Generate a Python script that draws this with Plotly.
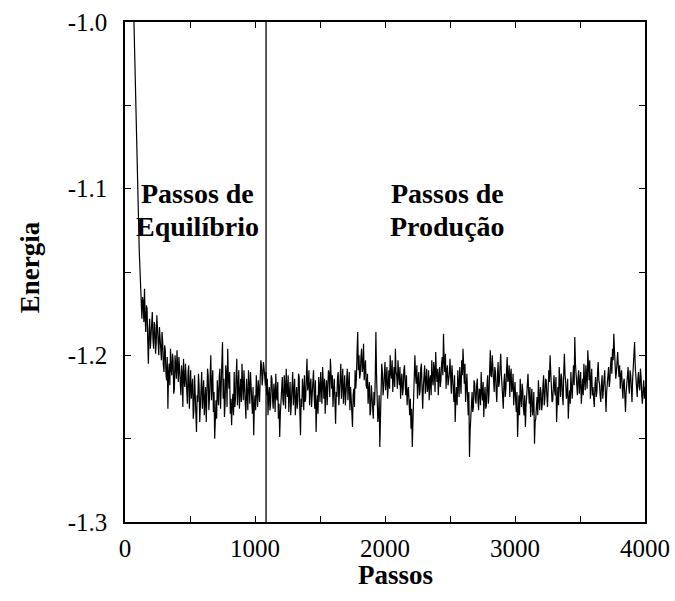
import plotly.graph_objects as go

# Monte Carlo energy trace.
# energia: values at steps 0, 10, 20, ... 4000
# energia_meio: values at steps 5, 15, 25, ... 3995
passo_intervalo = 10
energia = [
    -0.550, -0.650, -0.740, -0.820, -0.880, -0.930, -0.970, -1.000, -1.040, -1.075,
    -1.105, -1.138, -1.160, -1.178, -1.168, -1.160, -1.186, -1.172, -1.205, -1.178,
    -1.190, -1.174, -1.196, -1.182, -1.193, -1.185, -1.200, -1.188, -1.203, -1.192,
    -1.210, -1.197, -1.215, -1.232, -1.205, -1.196, -1.212, -1.203, -1.220, -1.207,
    -1.197, -1.216, -1.208, -1.224, -1.211, -1.202, -1.219, -1.213, -1.229, -1.206,
    -1.218, -1.226, -1.214, -1.233, -1.221, -1.246, -1.228, -1.218, -1.231, -1.210,
    -1.224, -1.236, -1.219, -1.229, -1.212, -1.225, -1.200, -1.218, -1.234, -1.250,
    -1.227, -1.215, -1.230, -1.208, -1.221, -1.192, -1.214, -1.229, -1.211, -1.196,
    -1.220, -1.235, -1.242, -1.223, -1.210, -1.226, -1.202, -1.219, -1.232, -1.214,
    -1.205, -1.227, -1.216, -1.238, -1.222, -1.209, -1.229, -1.217, -1.235, -1.248,
    -1.224, -1.212, -1.231, -1.220, -1.214, -1.206, -1.213, -1.208, -1.218, -1.224,
    -1.236, -1.219, -1.229, -1.214, -1.232, -1.222, -1.211, -1.227, -1.238, -1.249,
    -1.226, -1.213, -1.230, -1.218, -1.208, -1.225, -1.234, -1.216, -1.228, -1.210,
    -1.223, -1.236, -1.219, -1.227, -1.213, -1.248, -1.231, -1.220, -1.212, -1.226,
    -1.202, -1.218, -1.230, -1.214, -1.225, -1.209, -1.232, -1.246, -1.224, -1.213,
    -1.228, -1.217, -1.207, -1.226, -1.235, -1.215, -1.223, -1.211, -1.202, -1.220,
    -1.231, -1.214, -1.241, -1.225, -1.210, -1.222, -1.205, -1.219, -1.229, -1.212,
    -1.224, -1.208, -1.221, -1.233, -1.226, -1.243, -1.220, -1.209, -1.214, -1.186,
    -1.200, -1.211, -1.196, -1.207, -1.215, -1.203, -1.220, -1.229, -1.216, -1.233,
    -1.224, -1.238, -1.230, -1.186, -1.226, -1.235, -1.255, -1.222, -1.210, -1.219,
    -1.204, -1.216, -1.226, -1.209, -1.200, -1.214, -1.222, -1.207, -1.196, -1.212,
    -1.203, -1.218, -1.226, -1.211, -1.220, -1.206, -1.224, -1.230, -1.219, -1.236,
    -1.244, -1.255, -1.229, -1.200, -1.217, -1.226, -1.210, -1.221, -1.205, -1.232,
    -1.214, -1.223, -1.208, -1.219, -1.227, -1.212, -1.203, -1.218, -1.209, -1.198,
    -1.216, -1.224, -1.207, -1.215, -1.201, -1.187, -1.210, -1.220, -1.206, -1.214,
    -1.202, -1.223, -1.213, -1.228, -1.240, -1.219, -1.209, -1.225, -1.214, -1.203,
    -1.196, -1.217, -1.228, -1.211, -1.236, -1.261, -1.238, -1.222, -1.231, -1.217,
    -1.229, -1.214, -1.233, -1.221, -1.210, -1.227, -1.237, -1.219, -1.230, -1.212,
    -1.224, -1.197, -1.213, -1.206, -1.222, -1.210, -1.228, -1.204, -1.216, -1.199,
    -1.218, -1.232, -1.211, -1.220, -1.201, -1.214, -1.225, -1.208, -1.219, -1.230,
    -1.216, -1.234, -1.249, -1.224, -1.214, -1.231, -1.221, -1.236, -1.243, -1.226,
    -1.211, -1.229, -1.237, -1.220, -1.232, -1.253, -1.238, -1.225, -1.215, -1.233,
    -1.222, -1.229, -1.212, -1.226, -1.215, -1.231, -1.209, -1.200, -1.218, -1.227,
    -1.212, -1.224, -1.240, -1.219, -1.207, -1.225, -1.214, -1.230, -1.199, -1.216,
    -1.223, -1.238, -1.221, -1.210, -1.226, -1.206, -1.189, -1.212, -1.224, -1.209,
    -1.218, -1.229, -1.214, -1.205, -1.221, -1.211, -1.197, -1.215, -1.226, -1.208,
    -1.219, -1.231, -1.213, -1.222, -1.204, -1.217, -1.228, -1.212, -1.221, -1.209,
    -1.234, -1.218, -1.207, -1.215, -1.201, -1.196, -1.187, -1.203, -1.210, -1.198,
    -1.213, -1.220, -1.209, -1.226, -1.214, -1.234, -1.218, -1.207, -1.223, -1.212,
    -1.228, -1.205, -1.192, -1.216, -1.225, -1.210, -1.221, -1.213, -1.229, -1.215,
    -1.219,
]
energia_meio = [
    -0.600, -0.695, -0.780, -0.850, -0.905, -0.950, -0.985, -1.020, -1.058, -1.090,
    -1.122, -1.150, -1.172, -1.165, -1.180, -1.178, -1.170, -1.192, -1.185, -1.196,
    -1.178, -1.190, -1.180, -1.199, -1.176, -1.197, -1.183, -1.198, -1.186, -1.206,
    -1.194, -1.211, -1.201, -1.210, -1.218, -1.208, -1.199, -1.223, -1.200, -1.214,
    -1.212, -1.201, -1.221, -1.206, -1.231, -1.215, -1.205, -1.226, -1.210, -1.232,
    -1.209, -1.219, -1.238, -1.212, -1.235, -1.224, -1.211, -1.240, -1.216, -1.232,
    -1.215, -1.226, -1.240, -1.208, -1.233, -1.214, -1.227, -1.209, -1.222, -1.236,
    -1.238, -1.224, -1.213, -1.232, -1.205, -1.226, -1.237, -1.206, -1.231, -1.213,
    -1.210, -1.226, -1.229, -1.236, -1.231, -1.212, -1.230, -1.209, -1.220, -1.228,
    -1.218, -1.209, -1.229, -1.214, -1.233, -1.224, -1.210, -1.228, -1.219, -1.230,
    -1.233, -1.222, -1.215, -1.228, -1.203, -1.218, -1.204, -1.216, -1.210, -1.214,
    -1.224, -1.233, -1.212, -1.226, -1.217, -1.234, -1.225, -1.216, -1.229, -1.235,
    -1.218, -1.227, -1.212, -1.232, -1.221, -1.212, -1.223, -1.236, -1.217, -1.230,
    -1.214, -1.225, -1.232, -1.211, -1.234, -1.226, -1.214, -1.233, -1.228, -1.213,
    -1.221, -1.209, -1.218, -1.231, -1.213, -1.224, -1.215, -1.230, -1.235, -1.219,
    -1.210, -1.229, -1.220, -1.214, -1.221, -1.230, -1.209, -1.225, -1.216, -1.212,
    -1.220, -1.228, -1.222, -1.213, -1.230, -1.211, -1.226, -1.208, -1.217, -1.230,
    -1.214, -1.227, -1.210, -1.219, -1.235, -1.224, -1.231, -1.220, -1.198, -1.209,
    -1.214, -1.201, -1.210, -1.193, -1.208, -1.218, -1.211, -1.221, -1.236, -1.218,
    -1.231, -1.222, -1.214, -1.212, -1.240, -1.224, -1.238, -1.205, -1.224, -1.211,
    -1.221, -1.207, -1.214, -1.220, -1.211, -1.203, -1.213, -1.219, -1.210, -1.220,
    -1.212, -1.207, -1.215, -1.224, -1.209, -1.217, -1.212, -1.222, -1.228, -1.226,
    -1.232, -1.240, -1.216, -1.212, -1.206, -1.215, -1.224, -1.208, -1.220, -1.219,
    -1.206, -1.211, -1.222, -1.209, -1.215, -1.224, -1.214, -1.204, -1.222, -1.210,
    -1.208, -1.213, -1.219, -1.205, -1.212, -1.203, -1.199, -1.209, -1.218, -1.211,
    -1.215, -1.206, -1.222, -1.212, -1.226, -1.230, -1.218, -1.207, -1.223, -1.212,
    -1.208, -1.205, -1.219, -1.224, -1.222, -1.245, -1.228, -1.234, -1.215, -1.226,
    -1.218, -1.227, -1.220, -1.230, -1.222, -1.216, -1.225, -1.232, -1.217, -1.229,
    -1.209, -1.212, -1.200, -1.218, -1.207, -1.221, -1.213, -1.219, -1.207, -1.211,
    -1.224, -1.216, -1.225, -1.209, -1.216, -1.206, -1.212, -1.222, -1.211, -1.222,
    -1.227, -1.222, -1.235, -1.236, -1.225, -1.217, -1.232, -1.224, -1.231, -1.220,
    -1.222, -1.219, -1.226, -1.236, -1.222, -1.240, -1.230, -1.236, -1.226, -1.219,
    -1.233, -1.218, -1.230, -1.214, -1.224, -1.220, -1.216, -1.210, -1.228, -1.219,
    -1.221, -1.213, -1.228, -1.230, -1.216, -1.211, -1.224, -1.210, -1.212, -1.226,
    -1.214, -1.227, -1.229, -1.220, -1.215, -1.218, -1.205, -1.220, -1.213, -1.223,
    -1.210, -1.219, -1.224, -1.215, -1.206, -1.220, -1.210, -1.203, -1.215, -1.224,
    -1.226, -1.218, -1.225, -1.210, -1.215, -1.224, -1.218, -1.226, -1.214, -1.222,
    -1.222, -1.211, -1.219, -1.206, -1.211, -1.203, -1.197, -1.214, -1.202, -1.207,
    -1.206, -1.212, -1.219, -1.216, -1.225, -1.222, -1.211, -1.219, -1.209, -1.220,
    -1.214, -1.199, -1.207, -1.224, -1.214, -1.219, -1.208, -1.224, -1.220, -1.226,
]

# merge the two read series in step order
passos = []
energias = []
for i, e in enumerate(energia):
    passos.append(i * passo_intervalo)
    energias.append(e)
    if i < len(energia_meio):
        passos.append(i * passo_intervalo + passo_intervalo // 2)
        energias.append(energia_meio[i])

# boundary between equilibration and production
passo_fronteira = 1085

x_tickvals = [0, 500, 1000, 1500, 2000, 2500, 3000, 3500, 4000]
x_ticktext = ["0", "", "1000", "", "2000", "", "3000", "", "4000"]
y_tickvals = [-1.3, -1.25, -1.2, -1.15, -1.1, -1.05, -1.0]
y_ticktext = ["-1.3", "", "-1.2", "", "-1.1", "", "-1.0"]

rotulos = [
    ("Passos de", 554, -1.1026),
    ("Equilíbrio", 554, -1.1224),
    ("Passos de", 2477, -1.1026),
    ("Produção", 2477, -1.1224),
]

FONTE = "Liberation Serif"

fig = go.Figure()
fig.add_trace(go.Scatter(
    x=passos, y=energias, mode="lines",
    line=dict(color="black", width=1.2),
    showlegend=False, hoverinfo="skip",
))

fig.add_shape(type="line", x0=passo_fronteira, x1=passo_fronteira,
              y0=-1.3, y1=-1.0, xref="x", yref="y",
              line=dict(color="black", width=1.3))

for texto, xx, yy in rotulos:
    fig.add_annotation(x=xx, y=yy, xref="x", yref="y", text="<b>%s</b>" % texto,
                       showarrow=False, font=dict(family=FONTE, size=28, color="black"),
                       xanchor="center", yanchor="middle")

fig.add_annotation(x=0.52, y=-0.105, xref="paper", yref="paper", text="<b>Passos</b>",
                   showarrow=False, font=dict(family=FONTE, size=27, color="black"),
                   xanchor="center", yanchor="middle")
fig.add_annotation(x=-0.182, y=0.51, xref="paper", yref="paper", text="<b>Energia</b>",
                   showarrow=False, textangle=-90,
                   font=dict(family=FONTE, size=27, color="black"),
                   xanchor="center", yanchor="middle")

tfont = dict(family=FONTE, size=25, color="black")
fig.update_layout(
    width=675, height=601,
    margin=dict(l=125, r=30, t=22, b=79),
    paper_bgcolor="white", plot_bgcolor="white",
    font=dict(family=FONTE, size=25, color="black"),
    xaxis=dict(range=[0, 4000], tickvals=x_tickvals, ticktext=x_ticktext,
               tickfont=tfont, automargin=False,
               ticks="inside", ticklen=6, tickwidth=1.2, tickcolor="black",
               showline=True, linecolor="black", linewidth=1.5, mirror="ticks",
               showgrid=False, zeroline=False, ticklabelstandoff=3),
    yaxis=dict(range=[-1.3, -1.0], tickvals=y_tickvals, ticktext=y_ticktext,
               tickfont=tfont, automargin=False,
               ticks="inside", ticklen=6, tickwidth=1.2, tickcolor="black",
               showline=True, linecolor="black", linewidth=1.5, mirror="ticks",
               showgrid=False, zeroline=False, ticklabelstandoff=11),
)

fig.write_html("out.html", config={"displayModeBar": False},
               post_script="document.body.style.margin='0px';")
